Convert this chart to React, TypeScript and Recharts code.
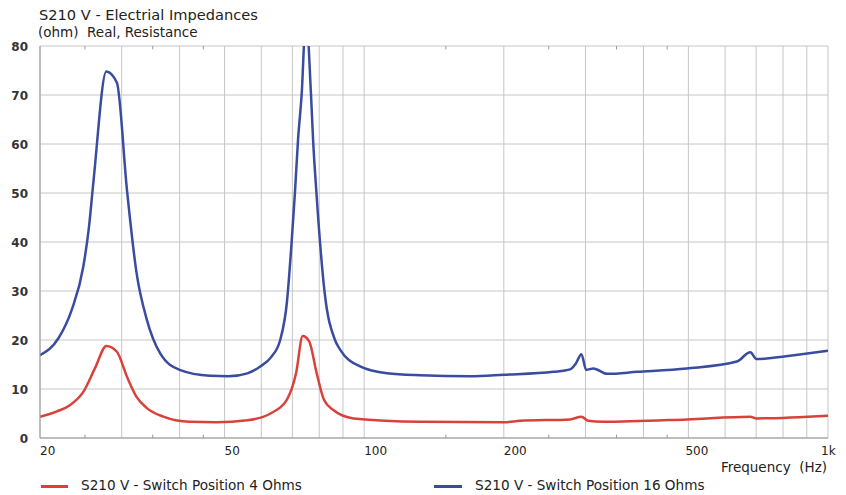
import { LineChart, Line, XAxis, YAxis, CartesianGrid, ReferenceLine } from "recharts";

const blueFreq = [20, 21.9, 23.4, 24.8, 25.5, 26.1, 27.8, 29.3, 30.8, 32.3, 34, 36.3, 40, 46.5, 51, 56, 59.7, 63, 65.9, 68.1, 69.8, 70.9, 72, 73.3, 74.9, 76.8, 77.6, 78.9, 82.1, 86.5, 88.8, 98, 112, 132, 169, 200, 256, 278, 286, 294, 301, 312, 334, 388, 496, 636, 680, 701, 812, 1000];
const blueOhm = [16.9, 20.3, 26.1, 35, 43, 52.7, 74.8, 72.5, 50.6, 33.7, 24.1, 17.3, 13.9, 12.7, 12.6, 13.2, 14.6, 16.5, 20, 27.5, 40.4, 50, 60.8, 70, 86, 70, 60.8, 50, 30, 20, 18, 14.6, 13.2, 12.8, 12.6, 12.9, 13.5, 14.0, 15.2, 17.1, 13.9, 14.2, 13.1, 13.5, 14.2, 15.6, 17.5, 16.1, 16.7, 17.8];

const redFreq = [20, 21.7, 23.2, 24.8, 26.3, 27.8, 29.3, 30.8, 32.3, 34, 36.9, 42, 48, 56, 62.8, 68.1, 71.3, 73.7, 76.1, 79, 81.9, 85.8, 94.8, 132, 200, 217, 278, 294, 304, 327, 496, 680, 701, 1000];
const redOhm = [4.35, 5.4, 6.7, 9.4, 14.3, 18.8, 17.6, 12.5, 8.4, 6.1, 4.35, 3.3, 3.2, 3.6, 5.0, 7.8, 13.2, 20.8, 19.7, 13.2, 7.8, 5.7, 4.0, 3.3, 3.2, 3.5, 3.8, 4.35, 3.5, 3.3, 3.8, 4.35, 4.0, 4.55];

const xGridTicks = [20, 30, 40, 50, 60, 70, 80, 90, 100, 200, 300, 400, 500, 600, 700, 800, 900, 1000];
const xLabels: Record<number, string> = { 20: "20", 50: "50", 100: "100", 200: "200", 500: "500", 1000: "1k" };
const minorTicks = [25, 35, 45, 150, 250, 350, 450];
const yTicks = [0, 10, 20, 30, 40, 50, 60, 70, 80];

const blueData = blueFreq.map((f, i) => ({ f, v: blueOhm[i] }));
const redData = redFreq.map((f, i) => ({ f, v: redOhm[i] }));

const FONT = "'DejaVu Sans', Verdana, sans-serif";
const BLUE = "#3a4c9f";
const RED = "#d9423b";

const XTick = ({ x, y, payload }: any) => {
  const label = xLabels[payload.value];
  if (!label) return null;
  // the last label is pulled back so it is not cut at the edge
  const dx = payload.value === 1000 ? -7 : payload.value === 500 ? -3 : 0;
  return (
    <text x={x + dx} y={y + 17} textAnchor="start" fontSize={12} fontFamily={FONT} fill="#222">
      {label}
    </text>
  );
};

const YTick = ({ x, y, payload }: any) => (
  <text x={x - 12} y={y + 4.5} textAnchor="end" fontSize={12} fontWeight="bold" fontFamily={FONT} fill="#333">
    {payload.value}
  </text>
);

export default function App() {
  return (
    <div style={{ position: "absolute", left: 0, top: 0, width: 846, height: 495, background: "#fff", fontFamily: FONT, color: "#222" }}>
      <div style={{ position: "absolute", left: 39, top: 6, fontSize: 14.6, whiteSpace: "pre" }}>S210 V - Electrial Impedances</div>
      <div style={{ position: "absolute", left: 38, top: 24, fontSize: 13.5, whiteSpace: "pre" }}>(ohm)  Real, Resistance</div>
      <LineChart width={846} height={495} data={blueData} margin={{ top: 46, right: 18, bottom: 27, left: 0 }}>
        <CartesianGrid stroke="#c6c6c6" strokeWidth={1} horizontal vertical />
        <XAxis
          dataKey="f"
          type="number"
          scale="log"
          domain={[20, 1000]}
          ticks={xGridTicks}
          interval={0}
          allowDataOverflow
          height={30}
          tickSize={0}
          tickMargin={0}
          tickLine={false}
          axisLine={{ stroke: "#999" }}
          tick={<XTick />}
        />
        <YAxis
          type="number"
          domain={[0, 80]}
          ticks={yTicks}
          interval={0}
          allowDataOverflow
          width={40}
          tickSize={0}
          tickMargin={0}
          tickLine={false}
          axisLine={{ stroke: "#999" }}
          tick={<YTick />}
        />
        {minorTicks.map((m) => (
          <ReferenceLine key={`b${m}`} segment={[{ x: m, y: 0 }, { x: m, y: 0.7 }]} stroke="#999" ifOverflow="hidden" />
        ))}
        {minorTicks.map((m) => (
          <ReferenceLine key={`t${m}`} segment={[{ x: m, y: 80 }, { x: m, y: 79.3 }]} stroke="#999" ifOverflow="hidden" />
        ))}
        <Line data={redData} dataKey="v" type="monotone" stroke={RED} strokeWidth={2.5} dot={false} isAnimationActive={false} />
        <Line data={blueData} dataKey="v" type="monotone" stroke={BLUE} strokeWidth={2.5} dot={false} isAnimationActive={false} />
      </LineChart>
      <div style={{ position: "absolute", right: 19, top: 459, fontSize: 13.5, whiteSpace: "pre" }}>Frequency  (Hz)</div>
      <div style={{ position: "absolute", left: 41, top: 485, width: 27, height: 3, background: RED }} />
      <div style={{ position: "absolute", left: 81, top: 477, fontSize: 13.6, whiteSpace: "pre" }}>S210 V - Switch Position 4 Ohms</div>
      <div style={{ position: "absolute", left: 434, top: 485, width: 28, height: 3, background: BLUE }} />
      <div style={{ position: "absolute", left: 475, top: 477, fontSize: 13.6, whiteSpace: "pre" }}>S210 V - Switch Position 16 Ohms</div>
    </div>
  );
}
